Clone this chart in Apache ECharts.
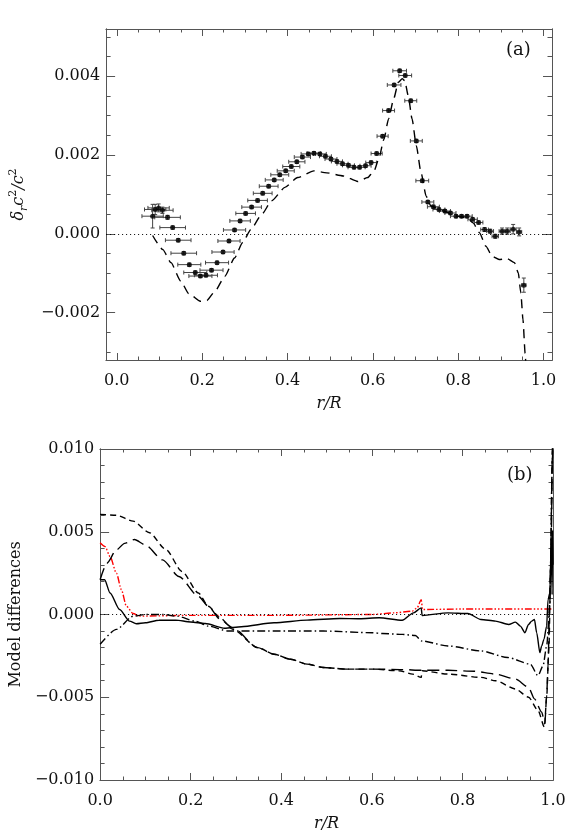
<!DOCTYPE html>
<html>
<head>
<meta charset="utf-8">
<script src="https://cdn.jsdelivr.net/npm/echarts@6/dist/echarts.min.js"></script>
<style>
  html, body { margin: 0; padding: 0; background: #fff; }
  #chart { width: 581px; height: 840px; }
</style>
</head>
<body>
<div id="chart"></div>
<script>
// panel (a): observed sound-speed differences with error bars
const obsR = [
  0.084, 0.090, 0.098, 0.107, 0.119, 0.131, 0.144, 0.157, 0.170, 0.184,
  0.196, 0.209, 0.222, 0.235, 0.249, 0.263, 0.276, 0.289, 0.302, 0.316,
  0.330, 0.342, 0.356, 0.369, 0.382, 0.396, 0.409, 0.422, 0.435, 0.449,
  0.462, 0.476, 0.489, 0.502, 0.516, 0.529, 0.543, 0.556, 0.569, 0.583,
  0.596, 0.609, 0.623, 0.637, 0.650, 0.663, 0.676, 0.689, 0.702, 0.716,
  0.729, 0.742, 0.755, 0.769, 0.782, 0.795, 0.808, 0.821, 0.834, 0.848,
  0.862, 0.875, 0.887, 0.903, 0.915, 0.929, 0.943, 0.954
];
const obsDc2 = [
  0.00045, 0.00062, 0.00066, 0.00060, 0.00042, 0.00016, -0.00016, -0.00049, -0.00078, -0.00098,
  -0.00107, -0.00105, -0.00092, -0.00073, -0.00046, -0.00018, 0.00010, 0.00033, 0.00052, 0.00068,
  0.00085, 0.00103, 0.00121, 0.00137, 0.00150, 0.00160, 0.00171, 0.00183, 0.00195, 0.00203,
  0.00205, 0.00203, 0.00197, 0.00190, 0.00184, 0.00178, 0.00174, 0.00169, 0.00169, 0.00173,
  0.00181, 0.00204, 0.00248, 0.00313, 0.00378, 0.00414, 0.00402, 0.00338, 0.00236, 0.00135,
  0.00081, 0.00069, 0.00062, 0.00058, 0.00053, 0.00045, 0.00045, 0.00045, 0.00037, 0.00029,
  0.00011, 0.00007, -0.00006, 0.00007, 0.00007, 0.00012, 0.00005, -0.00130
];
const obsRerr = [
  0.025, 0.025, 0.025, 0.025, 0.030, 0.030, 0.030, 0.030, 0.027, 0.027,
  0.027, 0.027, 0.027, 0.027, 0.026, 0.026, 0.026, 0.024, 0.023, 0.023,
  0.023, 0.022, 0.022, 0.021, 0.021, 0.020, 0.020, 0.019, 0.019, 0.017,
  0.016, 0.015, 0.014, 0.014, 0.013, 0.013, 0.014, 0.014, 0.013, 0.013,
  0.0125, 0.013, 0.013, 0.014, 0.016, 0.016, 0.015, 0.014, 0.014, 0.015,
  0.014, 0.014, 0.014, 0.013, 0.013, 0.013, 0.012, 0.012, 0.011, 0.010,
  0.009, 0.008, 0.0075, 0.007, 0.007, 0.007, 0.006, 0.005
];
const obsDc2err = [
  0.00030, 0.00013, 0.00010, 0.00008, 0.00005, 0.00004, 0.00004, 0.00004, 0.00004, 0.00004,
  0.00004, 0.00004, 0.00004, 0.00004, 0.00004, 0.00004, 0.00004, 0.00004, 0.00004, 0.00004,
  0.00004, 0.00004, 0.00004, 0.00004, 0.00004, 0.00004, 0.00004, 0.00004, 0.00004, 0.00004,
  0.00004, 0.00004, 0.00004, 0.00004, 0.00004, 0.00004, 0.00004, 0.00004, 0.00004, 0.00004,
  0.00004, 0.00004, 0.00004, 0.00004, 0.00004, 0.00004, 0.00004, 0.00004, 0.00004, 0.00004,
  0.00004, 0.00004, 0.00004, 0.00004, 0.00004, 0.00004, 0.00004, 0.00004, 0.00004, 0.00004,
  0.00005, 0.00005, 0.00005, 0.00008, 0.00008, 0.00012, 0.00010, 0.00018
];

// panel (a): model (dashed)
const modR = [
  0.084, 0.108, 0.127, 0.150, 0.169, 0.196, 0.211, 0.230, 0.253, 0.276,
  0.295, 0.314, 0.340, 0.363, 0.394, 0.424, 0.462, 0.492, 0.531, 0.565,
  0.588, 0.603, 0.614, 0.626, 0.637, 0.649, 0.660, 0.669, 0.675, 0.683,
  0.692, 0.702, 0.713, 0.725, 0.736, 0.766, 0.797, 0.820, 0.835, 0.850,
  0.865, 0.880, 0.896, 0.915, 0.932, 0.941, 0.947, 0.952, 0.957, 0.962
];
const modDc2 = [
  -0.00004, -0.00040, -0.00073, -0.00120, -0.00152, -0.00171, -0.00169, -0.00146, -0.00108, -0.00061,
  -0.00022, 0.00011, 0.00050, 0.00084, 0.00118, 0.00143, 0.00160, 0.00155, 0.00147, 0.00133,
  0.00143, 0.00160, 0.00190, 0.00240, 0.00292, 0.00343, 0.00385, 0.00394, 0.00389, 0.00351,
  0.00292, 0.00224, 0.00156, 0.00096, 0.00071, 0.00058, 0.00045, 0.00041, 0.00028, 0.00003,
  -0.00031, -0.00057, -0.00065, -0.00063, -0.00073, -0.00099, -0.00150, -0.00218, -0.00303, -0.00420
];

// panel (b): model differences, [r/R, value]
const solidLine = [
  [0, 0.0021], [0.01, 0.0021], [0.022, 0.0013], [0.043, 0.0003], [0.065, -0.0004], [0.08, -0.00056],
  [0.10, -0.0005], [0.13, -0.00035], [0.167, -0.00034], [0.2, -0.00045], [0.232, -0.00054],
  [0.275, -0.00083], [0.312, -0.00074], [0.384, -0.0005], [0.457, -0.00034], [0.529, -0.00024],
  [0.573, -0.00026], [0.616, -0.0002], [0.667, -0.00035], [0.692, 0.0001], [0.709, 0.0004],
  [0.711, -0.00006], [0.768, 0.0001], [0.812, 0.00006], [0.841, -0.0003], [0.873, -0.0004],
  [0.902, -0.0006], [0.917, -0.00046], [0.928, -0.0007], [0.938, -0.0011], [0.946, -0.0006],
  [0.953, -0.0004], [0.959, -0.0003], [0.964, -0.0011], [0.971, -0.0023], [0.975, -0.0019],
  [0.980, -0.0015], [0.986, -0.0007], [0.989, 0.0009], [0.993, 0.0013], [0.9965, 0.0045],
  [0.998, 0.0012], [0.999, 0.0051], [1.0, 0.003]
];
const dashDotLine = [
  [0, -0.0018], [0.036, -0.0009], [0.073, -0.0001], [0.10, 0.0], [0.14, 0.0], [0.17, -0.0001],
  [0.21, -0.0004], [0.239, -0.0007], [0.283, -0.001], [0.384, -0.001], [0.493, -0.001],
  [0.601, -0.0011], [0.623, -0.00115], [0.667, -0.0012], [0.696, -0.00127], [0.71, -0.0016],
  [0.768, -0.0019], [0.841, -0.0022], [0.9, -0.0026], [0.95, -0.003], [0.967, -0.0037],
  [0.978, -0.0031], [0.986, -0.0019], [0.993, 0.0005], [0.998, 0.0086], [1.0, 0.011]
];
const shortDashLine = [
  [0, 0.00605], [0.036, 0.0060], [0.073, 0.00564], [0.109, 0.00494], [0.145, 0.00393], [0.181, 0.0026],
  [0.217, 0.0013], [0.239, 0.0005], [0.265, -0.0002], [0.293, -0.0009], [0.348, -0.002], [0.384, -0.0024],
  [0.420, -0.0027], [0.457, -0.003], [0.493, -0.0032], [0.543, -0.0033], [0.601, -0.0033], [0.66, -0.0034],
  [0.69, -0.0036], [0.709, -0.0038], [0.711, -0.0034], [0.768, -0.0036], [0.841, -0.0038], [0.873, -0.0040],
  [0.917, -0.0045], [0.946, -0.0050], [0.967, -0.0058], [0.981, -0.0068], [0.986, -0.0050], [0.991, -0.0020],
  [0.995, 0.0030], [0.998, 0.0090], [1.0, 0.012]
];
const longDashLine = [
  [0, 0.0021], [0.015, 0.0031], [0.036, 0.0039], [0.054, 0.0043], [0.076, 0.00453], [0.10, 0.0042],
  [0.138, 0.0033], [0.174, 0.0023], [0.217, 0.0011], [0.239, 0.0005], [0.265, -0.0003], [0.293, -0.0008],
  [0.348, -0.002], [0.384, -0.0024], [0.42, -0.0027], [0.457, -0.003], [0.493, -0.0032], [0.543, -0.0033],
  [0.601, -0.0033], [0.667, -0.00333], [0.71, -0.00337], [0.768, -0.00337], [0.826, -0.00343],
  [0.873, -0.0036], [0.917, -0.0039], [0.946, -0.0044], [0.959, -0.0051], [0.975, -0.0059],
  [0.982, -0.0066], [0.986, -0.0049], [0.989, -0.0031], [0.993, 0.0011], [0.9965, 0.0051],
  [0.9987, 0.0100], [1.0, 0.012]
];
const redLine = [
  [0, 0.00433], [0.011, 0.0041], [0.022, 0.0035], [0.036, 0.0025], [0.047, 0.0015], [0.058, 0.0005],
  [0.073, 0.00006], [0.087, -0.0001], [0.2, -0.00005], [0.4, -0.00005], [0.6, 0.0], [0.65, 0.0001],
  [0.689, 0.0002], [0.700, 0.0004], [0.709, 0.0009], [0.712, 0.0003], [0.8, 0.00033], [1.0, 0.00033]
];

// tick values
const xMajor = [0, 0.2, 0.4, 0.6, 0.8, 1.0];
const xMinor = [0.05, 0.1, 0.15, 0.25, 0.3, 0.35, 0.45, 0.5, 0.55, 0.65, 0.7, 0.75, 0.85, 0.9, 0.95];
const yMajorA = [-0.002, 0, 0.002, 0.004];
const yMinorA = [-0.003, -0.0025, -0.0015, -0.001, -0.0005, 0.0005, 0.001, 0.0015,
  0.0025, 0.003, 0.0035, 0.0045, 0.005];
const yMajorB = [-0.01, -0.005, 0, 0.005, 0.01];
const yMinorB = [-0.009, -0.008, -0.007, -0.006, -0.004, -0.003, -0.002, -0.001,
  0.001, 0.002, 0.003, 0.004, 0.006, 0.007, 0.008, 0.009];

const FRAME = '#555';
const SERIF = '"DejaVu Serif", "Liberation Serif", serif';

function fmtX(v) { return v.toFixed(1); }
function fmtY(v) {
  const s = Math.abs(v).toFixed(3);
  return v < -1e-9 ? '\u2212' + s : s;
}

// one side of the IDL-style box: axis line + inward ticks (+ labels)
function side(grid, min, max, pos, ticks, len, label) {
  return {
    type: 'value', gridIndex: grid, min: min, max: max, position: pos,
    axisLine: { show: true, onZero: false, lineStyle: { color: FRAME, width: 1 } },
    axisTick: { show: true, inside: true, length: len, customValues: ticks,
      lineStyle: { color: FRAME, width: 1 } },
    axisLabel: label ? Object.assign({ show: true, customValues: ticks, fontFamily: SERIF,
      fontSize: 16, color: '#111' }, label) : { show: false },
    splitLine: { show: false }
  };
}

function xSides(grid, min, max) {
  const bottom = side(grid, min, max, 'bottom', xMajor, 7, { formatter: fmtX, margin: 13 });
  bottom.name = 'r/R';
  bottom.nameLocation = 'middle';
  bottom.nameGap = 36;
  bottom.nameTextStyle = { fontFamily: SERIF, fontStyle: 'italic', fontSize: 16, color: '#111' };
  return [
    bottom,
    side(grid, min, max, 'bottom', xMinor, 3.5),
    side(grid, min, max, 'top', xMajor, 7),
    side(grid, min, max, 'top', xMinor, 3.5)
  ];
}

function ySides(grid, min, max, major, minor, nameOpts) {
  const left = side(grid, min, max, 'left', major, 9, { formatter: fmtY, margin: 6 });
  Object.assign(left, nameOpts);
  return [
    left,
    side(grid, min, max, 'left', minor, 4.5),
    side(grid, min, max, 'right', major, 9),
    side(grid, min, max, 'right', minor, 4.5)
  ];
}

const errData = obsR.map((r, i) => [r, obsDc2[i], obsRerr[i], obsDc2err[i]]);
const pointData = obsR.map((r, i) => [r, obsDc2[i]]);
const modData = modR.map((r, i) => [r, modDc2[i]]);

function renderErr(params, api) {
  const x = api.value(0), y = api.value(1), xe = api.value(2), ye = api.value(3);
  const l = api.coord([x - xe, y]), r = api.coord([x + xe, y]);
  const b = api.coord([x, y - ye]), t = api.coord([x, y + ye]);
  const st = { stroke: '#444', lineWidth: 1 };
  const cap = 2;
  return {
    type: 'group',
    children: [
      { type: 'line', shape: { x1: l[0], y1: l[1], x2: r[0], y2: r[1] }, style: st },
      { type: 'line', shape: { x1: l[0], y1: l[1] - cap, x2: l[0], y2: l[1] + cap }, style: st },
      { type: 'line', shape: { x1: r[0], y1: r[1] - cap, x2: r[0], y2: r[1] + cap }, style: st },
      { type: 'line', shape: { x1: b[0], y1: b[1], x2: t[0], y2: t[1] }, style: st },
      { type: 'line', shape: { x1: b[0] - cap, y1: b[1], x2: b[0] + cap, y2: b[1] }, style: st },
      { type: 'line', shape: { x1: t[0] - cap, y1: t[1], x2: t[0] + cap, y2: t[1] }, style: st }
    ]
  };
}

const zeroLine = {
  silent: true, symbol: ['none', 'none'], label: { show: false },
  lineStyle: { type: [1, 3], color: '#000', width: 1 },
  data: [{ yAxis: 0 }]
};

function curve(data, xi, dash, color, extra) {
  return Object.assign({
    type: 'line', xAxisIndex: xi, yAxisIndex: xi, data: data, showSymbol: false,
    symbol: 'none', smooth: 0.25, smoothMonotone: 'x', clip: true,
    lineStyle: { color: color || '#000', width: 1.4, type: dash }
  }, extra || {});
}

const chart = echarts.init(document.getElementById('chart'), null, { renderer: 'canvas' });
chart.setOption({
  animation: false,
  backgroundColor: '#fff',
  grid: [
    { left: 93, top: 29, width: 459, height: 331 },
    { left: 93, top: 449, width: 460, height: 331 }
  ],
  xAxis: [].concat(xSides(0, -0.025, 1.02), xSides(1, 0, 1)),
  yAxis: [].concat(
    ySides(0, -0.0032, 0.0052, yMajorA, yMinorA, {
      name: '{d|δ}{s|r}{d|c}{p|2}{d|/c}{p|2}',
      nameLocation: 'middle', nameRotate: 90, nameGap: 68,
      nameTextStyle: {
        rich: {
          d: { fontFamily: SERIF, fontStyle: 'italic', fontSize: 16, color: '#111', lineHeight: 22, verticalAlign: 'middle' },
          s: { fontFamily: SERIF, fontStyle: 'italic', fontSize: 11, color: '#111', lineHeight: 22, verticalAlign: 'bottom' },
          p: { fontFamily: SERIF, fontSize: 11, color: '#111', lineHeight: 22, verticalAlign: 'top' }
        }
      }
    }),
    ySides(1, -0.01, 0.01, yMajorB, yMinorB, {
      name: 'Model differences',
      nameLocation: 'middle', nameRotate: 90, nameGap: 70,
      nameTextStyle: { fontFamily: SERIF, fontSize: 16, color: '#111' }
    })
  ),
  graphic: [
    { type: 'text', left: 506, top: 41, style: { text: '(a)', font: '18px ' + SERIF, fill: '#111' } },
    { type: 'text', left: 507, top: 466, style: { text: '(b)', font: '18px ' + SERIF, fill: '#111' } }
  ],
  series: [
    curve(modData, 0, [9, 6], '#000', { smooth: 0.2, markLine: zeroLine }),
    { type: 'custom', xAxisIndex: 0, yAxisIndex: 0, renderItem: renderErr, data: errData, z: 3 },
    { type: 'scatter', xAxisIndex: 0, yAxisIndex: 0, data: pointData, symbol: 'circle',
      symbolSize: 5, itemStyle: { color: '#000' }, z: 4 },

    curve(redLine, 4, [7, 2, 1.5, 2, 1.5, 2, 1.5, 2], '#ff0000', { markLine: zeroLine }),
    curve(shortDashLine, 4, [6, 4]),
    curve(longDashLine, 4, [12, 6]),
    curve(dashDotLine, 4, [8, 3, 1.5, 3]),
    curve(solidLine, 4, 'solid')
  ]
});
</script>
</body>
</html>
